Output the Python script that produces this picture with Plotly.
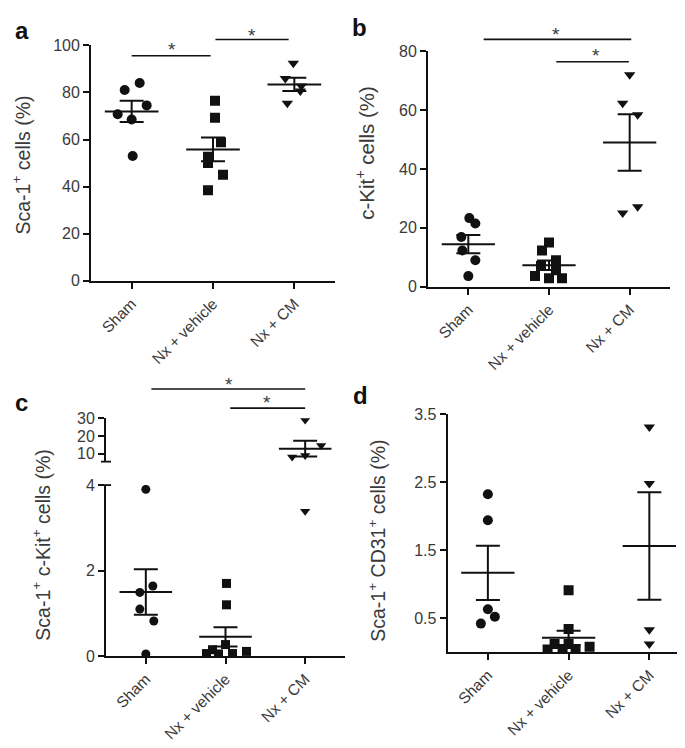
import numpy as np
import plotly.graph_objects as go

W, H = 685, 748

groups = ["Sham", "Nx + vehicle", "Nx + CM"]

# ---- data ----
# a: Sca-1+ cells (%)
a_sham = [81.0, 84.0, 70.7, 68.5, 74.5, 53.0]
a_vehicle = [76.5, 69.2, 58.8, 52.7, 50.0, 45.0, 38.5]
a_cm = [92.4, 85.9, 82.7, 80.6, 75.4]
# b: c-Kit+ cells (%)
b_sham = [23.3, 21.5, 16.9, 12.3, 9.0, 3.6]
b_vehicle = [15.0, 12.3, 9.0, 7.0, 5.6, 3.6, 2.9, 2.9]
b_cm = [72.0, 62.3, 58.4, 25.0, 27.2]
# c: Sca-1+ c-Kit+ cells (%)
c_sham = [3.9, 1.49, 1.64, 1.1, 0.82, 0.05]
c_vehicle = [1.7, 1.2, 0.27, 0.06, 0.15, 0.05, 0.06, 0.11]
c_cm = [29.0, 14.7, 8.1, 9.0, 3.39]
# d: Sca-1+ CD31+ cells (%)
d_sham = [2.32, 1.94, 0.63, 0.52, 0.42]
d_vehicle = [0.91, 0.34, 0.12, 0.12, 0.04, 0.04, 0.04, 0.08]
d_cm = [3.31, 2.48, 0.33, 0.12]

# horizontal scatter of the points (pixels)
jit_a = [[-7, 8, -14, 0, 15, 1], [2, 2, 8, -5, -5, 10, -5], [-1, -9, 7, 6, -7]]
jit_b = [[1, 7, -7, -6, 7, 0], [0, -7, 7, -8, 7, -14, 0, 13], [0, -7, 8, -7, 8]]
jit_c = [[0, -6, 7, -6, 8, 0], [1, 1, 0, -19, -13, -7, 7, 21], [0, 16, -13, 0, 0]]
jit_d = [[0, 0, 0, 7, -7], [0, 0, -14, 0, -21, -6, 7, 21], [0, 0, 0, 0]]

symbols = ["circle", "square", "triangle-down"]
INK = "#111111"
TXT = "#3a3a3a"
FONT = "Liberation Sans, Arial, sans-serif"

# panel boxes in pixels: x (left,right), y (top,bottom)
P = {
    "a": dict(x=(83, 327), y=(30, 271), xr=(0.5, 3.5), yr=(0, 100)),
    "b": dict(x=(420, 662), y=(36, 277), xr=(0.5, 3.5), yr=(0, 80)),
    "c": dict(x=(98, 337), y=(480, 655), xr=(0.5, 3.5), yr=(0, 4)),
    "ct": dict(x=(98, 337), y=(411.7, 456), xr=(0.5, 3.5), yr=(5.5, 30)),
    "d": dict(x=(439.5, 681.7), y=(407.3, 651), xr=(0.5, 3.5), yr=(0, 3.5)),
}


def dom(p):
    (x0, x1), (yt, yb) = p["x"], p["y"]
    return [x0 / W, x1 / W], [1 - yb / H, 1 - yt / H]


def to_paper(key, xv, yv):
    p = P[key]
    (x0, x1), (yt, yb) = p["x"], p["y"]
    xr, yr = p["xr"], p["yr"]
    px = x0 + (xv - xr[0]) / (xr[1] - xr[0]) * (x1 - x0)
    py = yb - (yv - yr[0]) / (yr[1] - yr[0]) * (yb - yt)
    return px / W, 1 - py / H


def ppu(key):
    p = P[key]
    return (p["x"][1] - p["x"][0]) / (p["xr"][1] - p["xr"][0])


fig = go.Figure()


def add_points(xa, ya, cx, vals, jit, sym, size, unit):
    fig.add_trace(go.Scatter(
        x=[cx + j / unit for j in jit], y=vals, mode="markers", xaxis=xa, yaxis=ya,
        marker=dict(symbol=sym, size=size, color=INK, line=dict(width=0)),
        showlegend=False, hoverinfo="y"))


def add_mean(xa, ya, cx, vals):
    v = np.array(vals, dtype=float)
    m = v.mean()
    sem = v.std(ddof=1) / np.sqrt(len(v))
    fig.add_trace(go.Scatter(
        x=[cx - 0.33, cx + 0.33], y=[m, m], mode="lines", xaxis=xa, yaxis=ya,
        line=dict(color=INK, width=2), showlegend=False, hoverinfo="skip"))
    fig.add_trace(go.Scatter(
        x=[cx], y=[m], mode="markers", xaxis=xa, yaxis=ya,
        marker=dict(size=1, opacity=0),
        error_y=dict(type="data", array=[sem], symmetric=True, color=INK, thickness=2, width=12),
        showlegend=False, hoverinfo="skip"))


panel_data = {
    "a": ([a_sham, a_vehicle, a_cm], jit_a, 10, ("x", "y")),
    "b": ([b_sham, b_vehicle, b_cm], jit_b, 10, ("x2", "y2")),
    "d": ([d_sham, d_vehicle, d_cm], jit_d, 10, ("x4", "y4")),
}
for key, (sets, jits, size, (xa, ya)) in panel_data.items():
    for i, (vals, jit) in enumerate(zip(sets, jits)):
        add_points(xa, ya, i + 1, vals, jit, symbols[i], size, ppu(key))
    for i, vals in enumerate(sets):
        add_mean(xa, ya, i + 1, vals)

# panel c (broken axis)
uc = ppu("c")
add_points("x3", "y3", 1, c_sham, jit_c[0], "circle", 9, uc)
add_points("x3", "y3", 2, c_vehicle, jit_c[1], "square", 9, uc)
lo = [(v, j) for v, j in zip(c_cm, jit_c[2]) if v <= 4]
hi = [(v, j) for v, j in zip(c_cm, jit_c[2]) if v > 4]
add_points("x3", "y3", 3, [v for v, _ in lo], [j for _, j in lo], "triangle-down", 9, uc)
add_points("x5", "y5", 3, [v for v, _ in hi], [j for _, j in hi], "triangle-down", 9, uc)
add_mean("x3", "y3", 1, c_sham)
add_mean("x3", "y3", 2, c_vehicle)
add_mean("x5", "y5", 3, c_cm)

# ---- axes ----
axis_common = dict(showline=True, linecolor=INK, linewidth=1.8, showgrid=False, zeroline=False,
                   ticks="outside", tickcolor=INK, tickwidth=1.8, ticklen=6,
                   tickfont=dict(family=FONT, size=16, color=TXT))

layout = dict(width=W, height=H, margin=dict(l=0, r=0, t=0, b=0),
              paper_bgcolor="white", plot_bgcolor="white", showlegend=False)

ytick_sets = {
    "a": ([0, 20, 40, 60, 80, 100], None),
    "b": ([0, 20, 40, 60, 80], None),
    "c": ([0, 2, 4], None),
    "ct": ([10, 20, 30], None),
    "d": ([0.5, 1.5, 2.5, 3.5], ["0.5", "1.5", "2.5", "3.5"]),
}
names = {"a": ("xaxis", "yaxis", "x", "y"), "b": ("xaxis2", "yaxis2", "x2", "y2"),
         "c": ("xaxis3", "yaxis3", "x3", "y3"), "d": ("xaxis4", "yaxis4", "x4", "y4"),
         "ct": ("xaxis5", "yaxis5", "x5", "y5")}
for key, (xn, yn, xs, ys) in names.items():
    xd, yd = dom(P[key])
    xa = dict(axis_common, domain=xd, range=list(P[key]["xr"]), anchor=ys,
              tickmode="array", tickvals=[1, 2, 3], ticktext=groups, tickangle=-45,
              tickfont=dict(family=FONT, size=15.5, color=TXT))
    if key == "ct":
        xa = dict(domain=xd, range=list(P[key]["xr"]), anchor=ys, visible=False)
    tv, tt = ytick_sets[key]
    ya = dict(axis_common, domain=yd, range=list(P[key]["yr"]), anchor=xs,
              tickmode="array", tickvals=tv, ticktext=tt if tt else [str(t) for t in tv])
    layout[xn] = xa
    layout[yn] = ya

fig.update_layout(**layout)

shapes = []
annots = []


def hline_paper(key, x0v, x1v, yv, width=1.6):
    a0 = to_paper(key, x0v, yv)
    a1 = to_paper(key, x1v, yv)
    shapes.append(dict(type="line", xref="paper", yref="paper", x0=a0[0], x1=a1[0],
                       y0=a0[1], y1=a1[1], line=dict(color=INK, width=width)))


def star(key, xv, yv):
    px, py = to_paper(key, xv, yv)
    annots.append(dict(text="*", x=px, y=py - 4 / H, xref="paper", yref="paper",
                       showarrow=False, xanchor="center", yanchor="middle",
                       font=dict(family=FONT, size=19, color=TXT)))


# significance bars
hline_paper("a", 1.0, 1.97, 95.6); star("a", 1.5, 100)
hline_paper("a", 2.03, 2.93, 102.5); star("a", 2.48, 105.8)
hline_paper("b", 1.19, 3.02, 84); star("b", 2.09, 87)
hline_paper("b", 2.09, 2.99, 76.4); star("b", 2.58, 80)
hline_paper("ct", 1.07, 3.0, 46.6); star("ct", 2.04, 51.6)
hline_paper("ct", 2.06, 3.0, 35.8); star("ct", 2.52, 41.1)

# break ends on the panel c axis
cx0 = P["c"]["x"][0]
for py in (456, 480):
    shapes.append(dict(type="line", xref="paper", yref="paper",
                       x0=(cx0 - 5) / W, x1=(cx0 + 5) / W, y0=1 - py / H, y1=1 - py / H,
                       line=dict(color=INK, width=1.8)))

# y-axis titles
titles = [
    ("Sca-1<sup>+</sup> cells (%)", 13, 153, 19.5),
    ("c-Kit<sup>+</sup> cells (%)", 357, 140, 20.5),
    ("Sca-1<sup>+</sup> c-Kit<sup>+</sup> cells (%)", 33, 542, 19.5),
    ("Sca-1<sup>+</sup> CD31<sup>+</sup> cells (%)", 369, 537, 19.5),
]
for t, x, y, s in titles:
    annots.append(dict(text=t, x=x / W, y=1 - y / H, xref="paper", yref="paper", textangle=-90,
                       showarrow=False, xanchor="center", yanchor="middle",
                       font=dict(family=FONT, size=s, color=TXT)))

# panel letters
for t, x, y in [("a", 14, 15), ("b", 351, 12), ("c", 13, 395), ("d", 352, 388)]:
    annots.append(dict(text="<b>%s</b>" % t, x=x / W, y=1 - y / H, xref="paper", yref="paper",
                       showarrow=False, xanchor="center", yanchor="middle",
                       font=dict(family=FONT, size=24, color="#111111")))

fig.update_layout(shapes=shapes, annotations=annots)
fig.write_html("out.html")
